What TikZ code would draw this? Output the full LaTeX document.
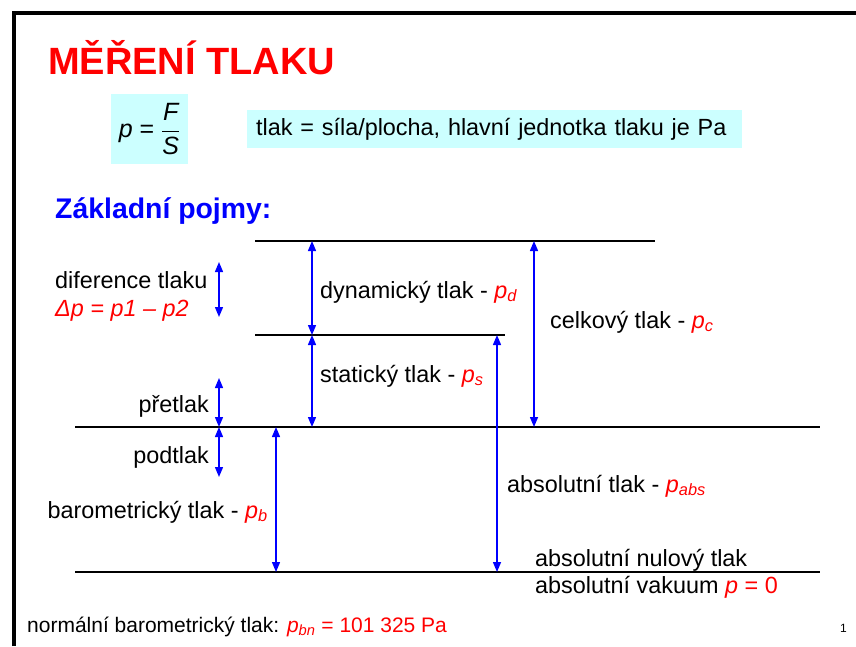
\documentclass[tikz,border=0pt]{standalone}
\usepackage{amsmath}
\usepackage{fontspec}
\setmainfont{Liberation Sans}
\usetikzlibrary{arrows.meta,positioning}
\definecolor{cervena}{HTML}{FF0000}
\definecolor{modra}{HTML}{0000FF}
\definecolor{azurova}{HTML}{CCFFFF}
\newcommand{\tlakindex}[1]{\textcolor{cervena}{\textit{p}\textsubscript{\textit{#1}}}}

\begin{document}
\begin{tikzpicture}[x=1pt, y=-1pt, font=\fontsize{23.4}{28}\selectfont,
  popis/.style={inner sep=0pt, anchor=base west},
  hladina/.style={black, line width=1.5pt},
  sipka/.style={{Triangle[length=10pt,width=8pt]}-{Triangle[length=10pt,width=8pt]}, modra, line width=1.4pt}]
\useasboundingbox (0,0) rectangle (856,646);
% ramecek snimku
\draw[line width=4pt] (14,646) -- (14,13) -- (856,13);
\node[popis, text=cervena, font=\bfseries\fontsize{38}{42}\selectfont] (nadpis) at (48,74) {MĚŘENÍ TLAKU};
\node[fill=azurova, minimum width=77pt, minimum height=70pt, inner sep=0pt] (vzorec) at (149.5,129)
  {\fontsize{25}{30}\selectfont$\textit{p} \mathrel{\text{=}} \dfrac{\textit{F}}{\textit{S}}$};
\node[fill=azurova, anchor=west, minimum width=495pt, minimum height=38pt, inner xsep=9pt, align=left, text width=477pt] (definice) at (247,129)
  {tlak = síla/plocha, hlavní jednotka tlaku je Pa};
\node[popis, text=modra, font=\bfseries\fontsize{28.4}{32}\selectfont] (pojmy) at (55,218) {Základní pojmy:};
% hladiny tlaku
\coordinate (hc) at (0,241);
\coordinate (hs) at (0,335);
\coordinate (hb) at (0,427);
\coordinate (h0) at (0,572);
\draw[hladina] (255,0 |- hc) -- (655,0 |- hc);
\draw[hladina] (255,0 |- hs) -- (505,0 |- hs);
\draw[hladina] (75,0 |- hb) -- (820,0 |- hb);
\draw[hladina] (75,0 |- h0) -- (820,0 |- h0);
% sipky
\draw[sipka] (219,262) -- (219,317);
\draw[sipka] (219,378) -- (219,0 |- hb);
\draw[sipka] (219,0 |- hb) -- (219,477);
\draw[sipka] (276,0 |- hb) -- (276,0 |- h0);
\draw[sipka] (312,0 |- hc) -- (312,0 |- hs);
\draw[sipka] (312,0 |- hs) -- (312,0 |- hb);
\draw[sipka] (497,0 |- hs) -- (497,0 |- h0);
\draw[sipka] (534,0 |- hc) -- (534,0 |- hb);
% popisy
\node[popis] (diference) at (55,288) {diference tlaku};
\node[popis, text=cervena, font=\itshape\fontsize{23.4}{28}\selectfont] (rozdil) at (55,316) {Δp = p1 – p2};
\node[popis, anchor=base east] (pretlak) at (209,412) {přetlak};
\node[popis, anchor=base east] (podtlak) at (209,463) {podtlak};
\node[popis, anchor=base east] (barometricky) at (268,518) {barometrický tlak - \tlakindex{b}};
\node[popis] (dynamicky) at (320,298) {dynamický tlak - \tlakindex{d}};
\node[popis] (staticky) at (320,382) {statický tlak - \tlakindex{s}};
\node[popis] (celkovy) at (550,328) {celkový tlak - \tlakindex{c}};
\node[popis] (absolutni) at (507,492) {absolutní tlak - \tlakindex{abs}};
\node[popis] (nulovy) at (535,566) {absolutní nulový tlak};
\node[popis] (vakuum) at (535,593) {absolutní vakuum {\color{cervena}\textit{p} = 0}};
\node[popis, font=\fontsize{21}{25}\selectfont] (normalni) at (27,632)
  {normální barometrický tlak: {\color{cervena}\textit{p}\textsubscript{\textit{bn}} = 101 325 Pa}};
\node[popis, font=\fontsize{12}{14}\selectfont] (strana) at (840,632) {1};
\end{tikzpicture}
\end{document}
